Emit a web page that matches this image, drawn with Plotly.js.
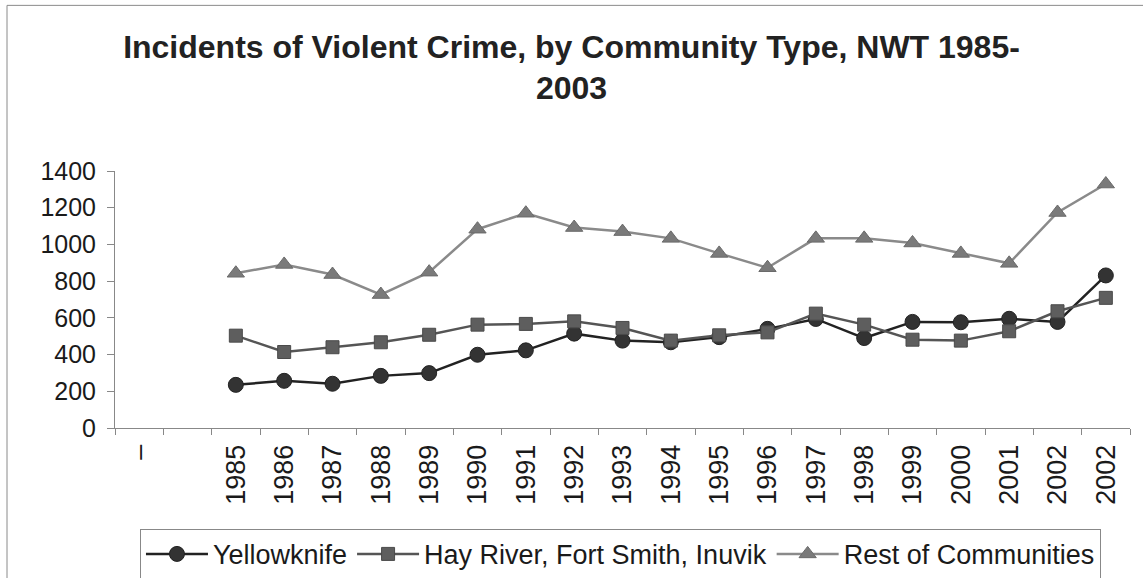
<!DOCTYPE html>
<html>
<head>
<meta charset="utf-8">
<script src="https://cdn.plot.ly/plotly-3.0.1.min.js"></script>
<style>
html,body{margin:0;padding:0;background:#fff;}
#chart{width:1143px;height:578px;}
</style>
</head>
<body>
<div id="chart"></div>
<script>
var categories = ["\u2013", "", "1985", "1986", "1987", "1988", "1989", "1990", "1991", "1992", "1993", "1994", "1995", "1996", "1997", "1998", "1999", "2000", "2001", "2002", "2002"];
var yellowknife = [null, null, 235, 257, 241, 284, 299, 399, 423, 514, 476, 467, 495, 540, 594, 490, 578, 576, 595, 578, 831];
var hayRiverFortSmithInuvik = [null, null, 503, 414, 440, 467, 508, 563, 567, 581, 545, 476, 505, 521, 623, 563, 481, 476, 527, 636, 709];
var restOfCommunities = [null, null, 843, 891, 836, 727, 849, 1083, 1170, 1092, 1070, 1033, 951, 873, 1033, 1033, 1008, 951, 897, 1174, 1329];
var seriesNames = ["Yellowknife", "Hay River, Fort Smith, Inuvik", "Rest of Communities"];

var keys = categories.map(function (c, i) { return "k" + i; });
var FONT = "Arial, 'Liberation Sans', sans-serif";

var traces = [
  {
    x: keys, y: yellowknife, name: seriesNames[0], type: "scatter", mode: "lines+markers",
    line: {color: "#222222", width: 2.5},
    marker: {symbol: "circle", size: 15, color: "#333333", line: {color: "#222222", width: 1}}
  },
  {
    x: keys, y: hayRiverFortSmithInuvik, name: seriesNames[1], type: "scatter", mode: "lines+markers",
    line: {color: "#555555", width: 2.5},
    marker: {symbol: "square", size: 13, color: "#5e5e5e", line: {color: "#4a4a4a", width: 1}}
  },
  {
    x: keys, y: restOfCommunities, name: seriesNames[2], type: "scatter", mode: "lines+markers",
    line: {color: "#8a8a8a", width: 2.5},
    marker: {symbol: "triangle-up", size: 15, color: "#7a7a7a", line: {color: "#6a6a6a", width: 1}}
  }
];

var layout = {
  width: 1143, height: 578,
  paper_bgcolor: "#ffffff", plot_bgcolor: "#ffffff",
  margin: {l: 115, r: 13, t: 171, b: 150},
  font: {family: FONT, size: 25, color: "#1a1a1a"},
  showlegend: true,
  title: {
    text: "Incidents of Violent Crime, by Community Type, NWT 1985-<br>2003",
    font: {family: FONT, size: 32, color: "#222222", weight: "bold"},
    xref: "container", x: 0.5, xanchor: "center",
    yref: "container", y: 0.9, yanchor: "top"
  },
  xaxis: {
    type: "category",
    range: [-0.5, 20.5],
    tickmode: "array", tickvals: keys, ticktext: categories,
    tickson: "boundaries",
    ticks: "outside", ticklen: 6, tickcolor: "#888888", tickwidth: 1,
    tickangle: -90,
    ticklabelstandoff: 5,
    tickfont: {family: FONT, size: 27, color: "#1a1a1a"},
    showline: true, linecolor: "#888888", linewidth: 1,
    showgrid: false, zeroline: false, fixedrange: true
  },
  yaxis: {
    range: [0, 1400], tickmode: "linear", tick0: 0, dtick: 200,
    ticks: "outside", ticklen: 7, tickcolor: "#888888", tickwidth: 1,
    ticklabelstandoff: 6,
    tickfont: {family: FONT, size: 25, color: "#1a1a1a"},
    showline: true, linecolor: "#888888", linewidth: 1,
    showgrid: false, zeroline: false, fixedrange: true
  },
  legend: {
    orientation: "h",
    x: 0.0246, xanchor: "left",
    yref: "container", y: 0.085, yanchor: "top",
    bordercolor: "#888888", borderwidth: 1, bgcolor: "#ffffff",
    itemwidth: 62,
    font: {family: FONT, size: 27, color: "#1a1a1a"}
  },
  shapes: [
    {type: "rect", xref: "paper", yref: "paper", x0: -0.1064, x1: 1.2, y0: -1.0, y1: 1.6445,
     line: {color: "#8a8a8a", width: 1}, fillcolor: "rgba(0,0,0,0)", layer: "below"}
  ]
};

Plotly.newPlot("chart", traces, layout, {displayModeBar: false, staticPlot: true});
</script>
</body>
</html>
